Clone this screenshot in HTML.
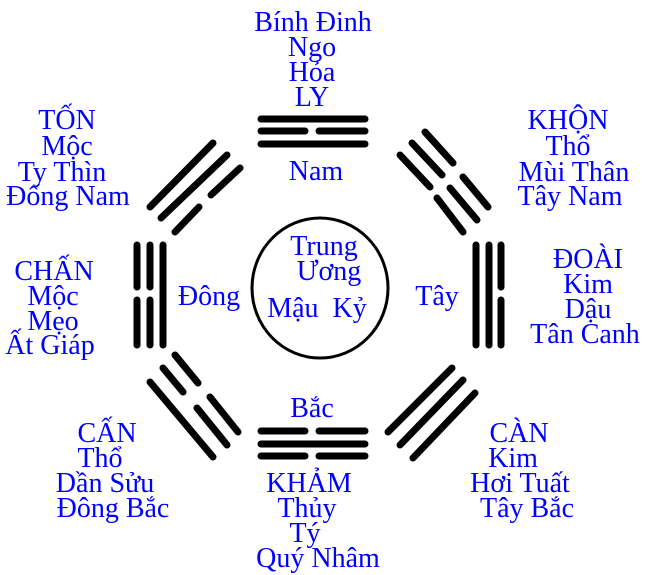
<!DOCTYPE html>
<html><head><meta charset="utf-8"><style>
html,body{margin:0;padding:0;background:#fff;}
svg{display:block;}
text{font-family:"Liberation Serif",serif;font-size:28px;fill:#0000ff;text-anchor:middle;}
</style></head><body>
<svg width="670" height="575" viewBox="0 0 670 575" xmlns="http://www.w3.org/2000/svg">
<g stroke="#000" stroke-width="7" stroke-linecap="round" fill="none">
<line x1="261" y1="119" x2="365" y2="119"/>
<line x1="261" y1="131" x2="305" y2="131"/><line x1="319" y1="131" x2="365" y2="131"/>
<line x1="261" y1="144" x2="365" y2="144"/>
<line x1="261" y1="431" x2="305" y2="431"/><line x1="319" y1="431" x2="365" y2="431"/>
<line x1="261" y1="444" x2="365" y2="444"/>
<line x1="261" y1="456" x2="305" y2="456"/><line x1="319" y1="456" x2="365" y2="456"/>
<line x1="137" y1="245" x2="137" y2="287"/><line x1="137" y1="300" x2="137" y2="345"/>
<line x1="150" y1="245" x2="150" y2="287"/><line x1="150" y1="300" x2="150" y2="345"/>
<line x1="163" y1="245" x2="163" y2="345"/>
<line x1="476" y1="245" x2="476" y2="345"/>
<line x1="489" y1="245" x2="489" y2="345"/>
<line x1="501" y1="245" x2="501" y2="287"/><line x1="501" y1="300" x2="501" y2="345"/>
<line x1="150" y1="207" x2="213" y2="143"/>
<line x1="161" y1="218" x2="227" y2="155"/>
<line x1="175" y1="232" x2="199" y2="207"/><line x1="211" y1="195" x2="240" y2="168"/>
<line x1="425" y1="132" x2="453" y2="163"/><line x1="463" y1="177" x2="488" y2="207"/>
<line x1="412" y1="143" x2="442" y2="175"/><line x1="450" y1="188" x2="477" y2="220"/>
<line x1="400" y1="155" x2="430" y2="187"/><line x1="437" y1="198" x2="463" y2="232"/>
<line x1="150" y1="382" x2="213" y2="457"/>
<line x1="163" y1="368" x2="183" y2="392"/><line x1="197" y1="408" x2="227" y2="445"/>
<line x1="175" y1="355" x2="198" y2="383"/><line x1="210" y1="397" x2="238" y2="432"/>
<line x1="452" y1="368" x2="388" y2="432"/>
<line x1="463" y1="380" x2="400" y2="445"/>
<line x1="475" y1="393" x2="413" y2="458"/>
</g>
<ellipse cx="320" cy="288" rx="68" ry="70" stroke="#000" stroke-width="3" fill="none"/>

<text x="313" y="31">Bính Đinh</text>
<text x="312" y="56">Ngo</text>
<text x="312" y="81">Hỏa</text>
<text x="312" y="106">LY</text>
<text x="316" y="180">Nam</text>

<text x="67" y="129">TỐN</text>
<text x="67" y="155">Mộc</text>
<text x="62" y="181">Ty Thìn</text>
<text x="68" y="205">Đống Nam</text>

<text x="568" y="129">KHỘN</text>
<text x="568" y="155">Thổ</text>
<text x="574" y="181">Mùi Thân</text>
<text x="570" y="205">Tây Nam</text>

<text x="54" y="280">CHẤN</text>
<text x="53" y="305">Mộc</text>
<text x="53" y="330">Mẹo</text>
<text x="50" y="354">Ất Giáp</text>

<text x="209" y="305">Đông</text>
<text x="324" y="255">Trung</text>
<text x="329" y="280">Ương</text>
<text x="317" y="317">Mậu&#160; Kỷ</text>
<text x="437" y="305">Tây</text>

<text x="588" y="268">ĐOÀI</text>
<text x="588" y="293">Kim</text>
<text x="588" y="318">Dậu</text>
<text x="585" y="343">Tân Canh</text>

<text x="312" y="417">Bắc</text>
<text x="309" y="492">KHẢM</text>
<text x="307" y="517">Thủy</text>
<text x="305" y="542">Tý</text>
<text x="318" y="567">Quý Nhâm</text>

<text x="107" y="442">CẤN</text>
<text x="100" y="467">Thổ</text>
<text x="105" y="492">Dần Sửu</text>
<text x="113" y="517">Đông Bắc</text>

<text x="519" y="442">CÀN</text>
<text x="513" y="467">Kim</text>
<text x="520" y="492">Hơi Tuất</text>
<text x="527" y="517">Tây Bắc</text>
</svg>
</body></html>
